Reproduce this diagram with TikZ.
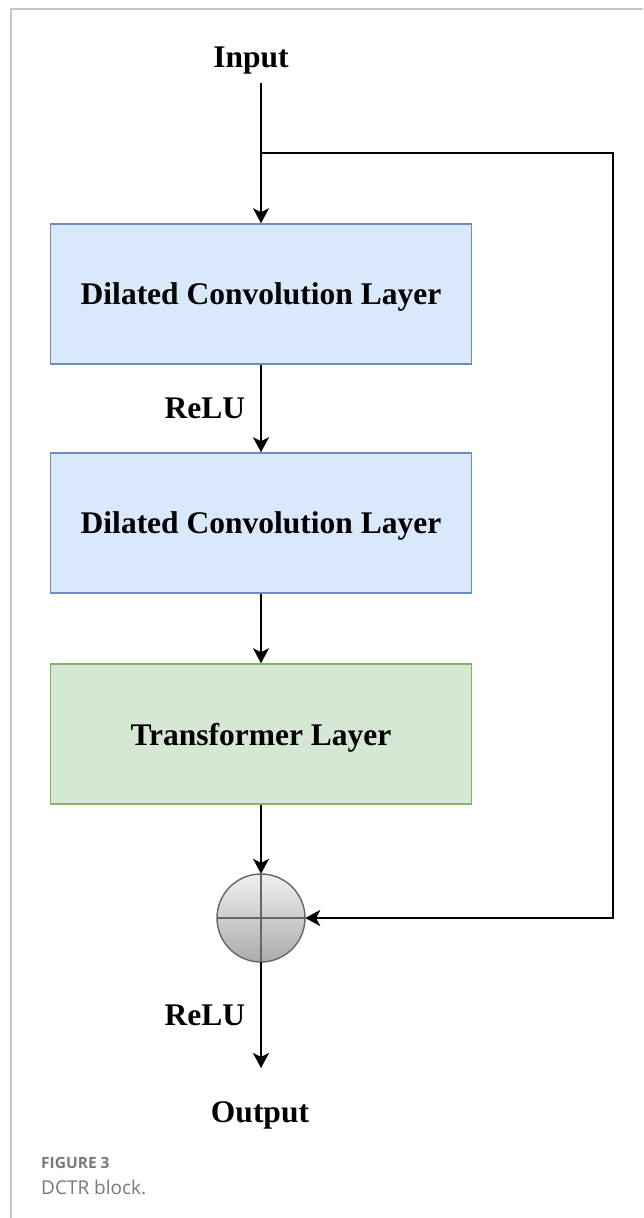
\documentclass[tikz,border=0pt]{standalone}
\usepackage{fontspec}
\setmainfont{Liberation Serif}
\setsansfont{Open Sans}
\usetikzlibrary{arrows.meta,positioning}
\definecolor{convfill}{HTML}{DAE8FC}
\definecolor{convline}{HTML}{6C8EBF}
\definecolor{tranfill}{HTML}{D5E8D4}
\definecolor{tranline}{HTML}{82B366}
\definecolor{sumline}{HTML}{666666}
\definecolor{capgray}{HTML}{7A7A7A}
\tikzset{
	layerbox/.style={draw, line width=1.5pt, minimum width=421pt, minimum height=140pt,
		text depth=0pt, font=\fontsize{31.5}{36}\selectfont\bfseries},
	convbox/.style={layerbox, fill=convfill, draw=convline},
	tranbox/.style={layerbox, fill=tranfill, draw=tranline},
	lbl/.style={font=\fontsize{31.5}{36}\selectfont\bfseries, inner sep=0pt, text depth=0pt},
	flow/.style={line width=1.8pt, -{Stealth[length=15pt,width=16pt,inset=4pt]}},
}
\begin{document}
\begin{tikzpicture}[x=1pt,y=-1pt]
	%%%%% START %%%%%
	\useasboundingbox (0,0) rectangle (643,1218);
	\fill[white] (0,0) rectangle (643,1218);
	\draw[line width=1.2pt, color=black!22] (11,1218) -- (11,9) -- (643,9);
	
	\node[lbl] (input) at (251,57) {Input};
	\coordinate (inend) at (261,83);
	\coordinate (split) at (261,153);
	\coordinate (loopA) at (613,153);
	\coordinate (loopB) at (613,918);
	
	\node[convbox] (conv1) at (261,294) {Dilated Convolution Layer};
	\node[convbox] (conv2) at (261,523) {Dilated Convolution Layer};
	\node[tranbox] (trans) at (261,734) {Transformer Layer};
	
	\draw[line width=1.4pt, color=sumline, top color=black!6, bottom color=black!33]
		(261,918) circle (44);
	\node[circle, minimum size=88pt, inner sep=0pt] (sum) at (261,918) {};
	\draw[line width=1.4pt, color=sumline] (sum.north) -- (sum.south);
	\draw[line width=1.4pt, color=sumline] (sum.west) -- (sum.east);
	
	\coordinate (outend) at (261,1068);
	\node[lbl] (output) at (260,1112) {Output};
	
	\draw[flow] (inend) -- (conv1.north);
	\draw[flow] (conv1.south) -- node[lbl, left=15pt] (relu1) {ReLU} (conv2.north);
	\draw[flow] (conv2.south) -- (trans.north);
	\draw[flow] (trans.south) -- (sum.north);
	\draw[flow] (split) -- (loopA) -- (loopB) -- (sum.east);
	\draw[flow] (sum.south) -- node[lbl, left=15pt] (relu2) {ReLU} (outend);
	
	\node[anchor=base west, inner sep=0pt, text=capgray, font=\sffamily\fontsize{15.5}{18}\selectfont\bfseries]
		(capnum) at (41,1168) {FIGURE 3};
	\node[anchor=base west, inner sep=0pt, text=capgray, font=\sffamily\fontsize{19}{22}\selectfont]
		(captext) at (41,1194) {DCTR block.};
	%%%%% END %%%%%
\end{tikzpicture}
\end{document}
